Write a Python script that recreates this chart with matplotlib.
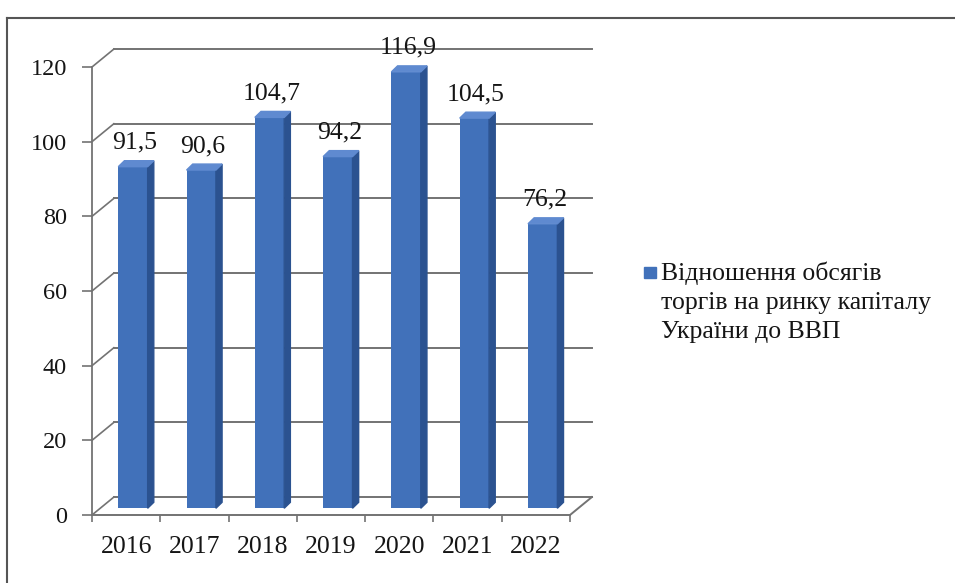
import numpy as np
import matplotlib.pyplot as plt
from matplotlib.patches import Rectangle

# data
years = ['2016', '2017', '2018', '2019', '2020', '2021', '2022']
values = [91.5, 90.6, 104.7, 94.2, 116.9, 104.5, 76.2]
labels = ['91,5', '90,6', '104,7', '94,2', '116,9', '104,5', '76,2']
legend_text = 'Відношення обсягів\nторгів на ринку капіталу\nУкраїни до ВВП'
yticks = [0, 20, 40, 60, 80, 100, 120]

plt.rcParams['font.family'] = ['Liberation Serif', 'DejaVu Serif']

# fake 3d look: back wall offset and bar depth, in data units
DX, DY = 0.32, 4.8
BX, BY = 0.10, 1.8      # where bars stand inside the floor
BW = 0.43               # front face width
BDX, BDY = 0.09, 1.6    # bar depth

face_col = '#4171ba'
side_col = '#2b5290'
top_col = '#5f8ad0'
grid_col = '#737373'
text_col = '#151515'

fig = plt.figure(figsize=(9.55, 5.83), dpi=100)
ax = fig.add_axes([92 / 955, (583 - 515) / 583, 478 / 955, 448 / 583])
ax.set_xlim(-0.5, 6.5)
ax.set_ylim(0, 120)

x = np.arange(len(years))

# back wall gridlines + left wall slants
for v in yticks:
    ax.plot([-0.5 + DX, 6.5 + DX], [v + DY, v + DY], color=grid_col, lw=1.4,
            clip_on=False, zorder=1)
    ax.plot([-0.5, -0.5 + DX], [v, v + DY], color=grid_col, lw=1.2,
            clip_on=False, zorder=1)
# right floor edge
ax.plot([6.5, 6.5 + DX], [0, DY], color=grid_col, lw=1.4, clip_on=False, zorder=1)

# bars: front face with ax.bar, side and top with fill
ax.bar(x + BX, values, width=BW, bottom=BY, color=face_col, zorder=3, clip_on=False)
for xi, v in zip(x, values):
    l = xi + BX - BW / 2
    r = xi + BX + BW / 2
    top = BY + v
    ax.fill([r, r + BDX, r + BDX, r], [BY, BY + BDY, top + BDY, top],
            color=side_col, zorder=3, clip_on=False)
    ax.fill([l, l + BDX, r + BDX, r], [top, top + BDY, top + BDY, top],
            color=top_col, zorder=3, clip_on=False)

# data labels
for xi, v, lab in zip(x, values, labels):
    ax.annotate(lab, (xi + BX + BDX / 2, BY + v + BDY), xytext=(-1, 5),
                textcoords='offset points', ha='center', va='bottom',
                fontsize=18.5, color=text_col, zorder=4, annotation_clip=False)

# axes styling
for s in ['top', 'right']:
    ax.spines[s].set_visible(False)
ax.spines['left'].set_color(grid_col)
ax.spines['bottom'].set_color(grid_col)
ax.spines['left'].set_linewidth(1.3)
ax.spines['bottom'].set_linewidth(1.4)

ax.set_yticks(yticks)
ax.set_yticklabels([str(t) for t in yticks])
ax.tick_params(axis='y', length=7, width=1.2, color=grid_col, pad=11,
               labelsize=17.5, labelcolor=text_col)
ax.set_xticks(x)
ax.set_xticklabels(years)
ax.tick_params(axis='x', which='major', length=0, pad=15, labelsize=18.5,
               labelcolor=text_col)
ax.set_xticks(np.arange(-0.5, 7, 1), minor=True)
ax.tick_params(axis='x', which='minor', length=5, width=1.2, color=grid_col)

# legend, drawn by hand so the square sits on the first line
fig.patches.append(Rectangle((644 / 955, 1 - 278 / 583), 12 / 955, 11 / 583,
                             transform=fig.transFigure, color=face_col))
# va='baseline' pins the last line, so anchor at the third line's baseline
fig.text(661 / 955, 1 - 338 / 583, legend_text, fontsize=18.5, va='baseline',
         ha='left', linespacing=1.42, color=text_col)

# outer frame of the scanned chart
fig.add_artist(plt.Line2D([7 / 955, 1], [1 - 18 / 583, 1 - 18 / 583],
                          transform=fig.transFigure, color='#555555', lw=1.5))
fig.add_artist(plt.Line2D([7 / 955, 7 / 955], [0, 1 - 18 / 583],
                          transform=fig.transFigure, color='#555555', lw=1.5))

fig.savefig('out.png', dpi=100)
